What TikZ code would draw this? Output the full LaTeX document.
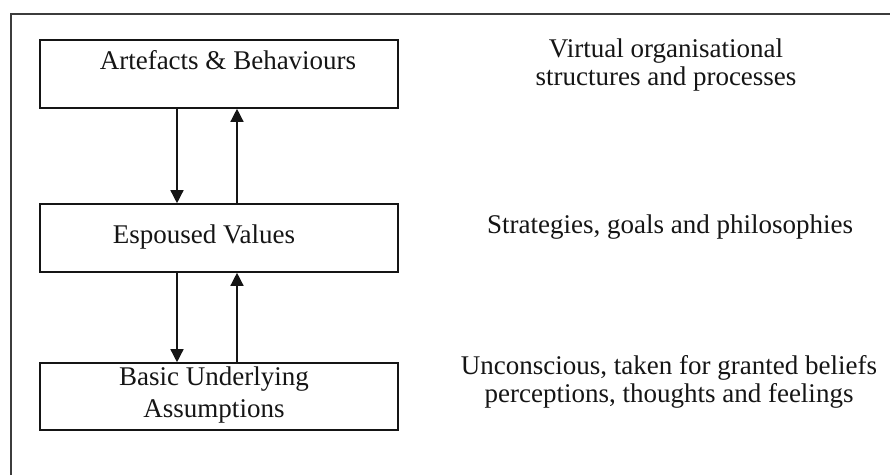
\documentclass[tikz,border=0pt]{standalone}
\usepackage{fontspec}
\setmainfont{Liberation Serif}
\usetikzlibrary{arrows.meta}
\definecolor{ink}{HTML}{151515}
\definecolor{framegrey}{HTML}{3C3C3C}
\begin{document}
\begin{tikzpicture}[x=1pt,y=-1pt,
  box/.style={draw=ink,line width=1.6pt,minimum width=358pt,inner sep=0pt},
  lbl/.style={text=ink,font=\fontsize{27}{28}\selectfont,inner sep=0pt,align=center,anchor=base},
  link/.style={draw=ink,line width=1.4pt,-{Triangle[width=13pt,length=13pt]}},
  frame/.style={draw=framegrey,line width=2.2pt}]
  \useasboundingbox (0,0) rectangle (890,475);
  \fill[white] (0,0) rectangle (890,475);
  % outer frame (its right and bottom sides fall outside the page)
  \draw[frame] (11,475) -- (11,14) -- (890,14);

  % the three levels
  \node[box,minimum height=68pt] (lvl1) at (219,74) {};
  \node[box,minimum height=68pt] (lvl2) at (219,238) {};
  \node[box,minimum height=67pt] (lvl3) at (219,396.5) {};

  % labels are anchored at the baseline of their last line
  \node[lbl] (t1) at (228,69) {Artefacts \& Behaviours};
  \node[lbl] (t2) at (204,243) {Espoused Values};
  \node[lbl] (t3) at (214,417) {Basic Underlying\\[4pt]Assumptions};

  % descriptions on the right
  \node[lbl] (d1) at (666,85) {Virtual organisational\\structures and processes};
  \node[lbl] (d2) at (670,233) {Strategies, goals and philosophies};
  \node[lbl] (d3) at (669,402) {Unconscious, taken for granted beliefs\\perceptions, thoughts and feelings};

  % links between levels
  \coordinate (down) at (177,0);
  \coordinate (up) at (237,0);
  \draw[link] (lvl1.south -| down) -- (lvl2.north -| down);
  \draw[link] (lvl2.north -| up) -- (lvl1.south -| up);
  \draw[link] (lvl2.south -| down) -- (lvl3.north -| down);
  \draw[link] (lvl3.north -| up) -- (lvl2.south -| up);
\end{tikzpicture}
\end{document}
